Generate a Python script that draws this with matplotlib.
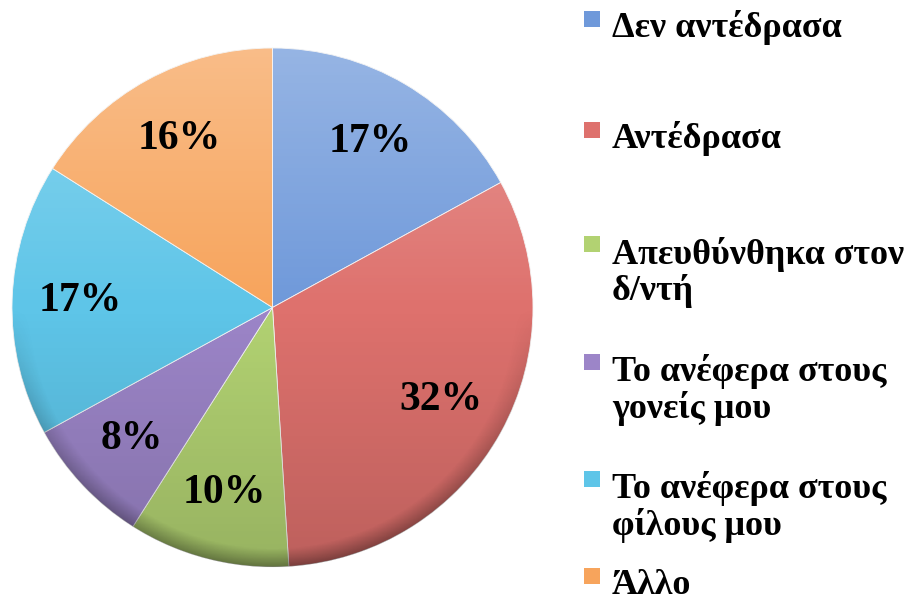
import numpy as np
import matplotlib.pyplot as plt
from matplotlib.patches import Circle, Rectangle

categories = ["Δεν αντέδρασα", "Αντέδρασα", "Απευθύνθηκα στον\nδ/ντή",
              "Το ανέφερα στους\nγονείς μου", "Το ανέφερα στους\nφίλους μου", "Άλλο"]
values = [17, 32, 10, 8, 17, 16]
colors = ["#6f99da", "#de716d", "#b2d272", "#9c85c8", "#5ec5e8", "#f7a45c"]

# legend first-line baselines in pixels from top (layout only)
legend_y = [37, 148, 262, 380, 497, 594]
LINE_PX = 38

W, H = 910, 606
fig = plt.figure(figsize=(W / 100, H / 100), dpi=100)
fig.patch.set_facecolor("white")

ax = fig.add_axes([12 / W, 1 - 567 / H, 521 / W, 519 / H])
wedges, texts, autotexts = ax.pie(
    values, colors=colors, startangle=90, counterclock=False, radius=1,
    autopct=lambda p: "%d%%" % round(p), pctdistance=0.74,
    wedgeprops=dict(linewidth=0.6, edgecolor="#f4f4f4"),
    textprops=dict(family="Liberation Serif", fontweight="bold", fontsize=30, color="black"))
ax.set_xlim(-1, 1)
ax.set_ylim(-1, 1)
ax.axis("off")

# soft shading: lighter at the top, darker at the bottom
grad = np.linspace(0, 1, 256)
rgba = np.zeros((256, 1, 4))
rgba[:, 0, :3] = np.where(grad > 0.5, 1.0, 0.0)[:, None]
rgba[:, 0, 3] = np.where(grad > 0.5, (grad - 0.5) * 0.55, (0.5 - grad) * 0.30)
im = ax.imshow(rgba, extent=[-1, 1, -1, 1], origin="lower", aspect="auto", zorder=1.5)
im.set_clip_path(Circle((0, 0), 1, transform=ax.transData))

# darker rim along the lower edge
yy, xx = np.mgrid[-1:1:400j, -1:1:400j]
rr = np.hypot(xx, yy)
rim = np.zeros((400, 400, 4))
rim[..., 3] = np.clip((rr - 0.93) / 0.07, 0, 1) * np.clip(-yy, 0, 1) * 0.35
im2 = ax.imshow(rim, extent=[-1, 1, -1, 1], origin="lower", aspect="auto", zorder=1.6)
im2.set_clip_path(Circle((0, 0), 1, transform=ax.transData))
ax.set_xlim(-1, 1)
ax.set_ylim(-1, 1)
for t in autotexts:
    t.set_zorder(3)

# legend drawn by hand to keep Excel-like spacing
for lab, col, yb in zip(categories, colors, legend_y):
    n = lab.count("\n")
    fig.patches.append(Rectangle((584 / W, 1 - (yb - 10) / H), 16 / W, 16 / H,
                                 transform=fig.transFigure, facecolor=col,
                                 edgecolor="none"))
    fig.text(612 / W, 1 - (yb + n * LINE_PX) / H, lab, family="Liberation Serif",
             fontweight="bold", fontsize=26, va="baseline", ha="left", linespacing=1.09)

fig.savefig("out.png", dpi=100, facecolor="white")
